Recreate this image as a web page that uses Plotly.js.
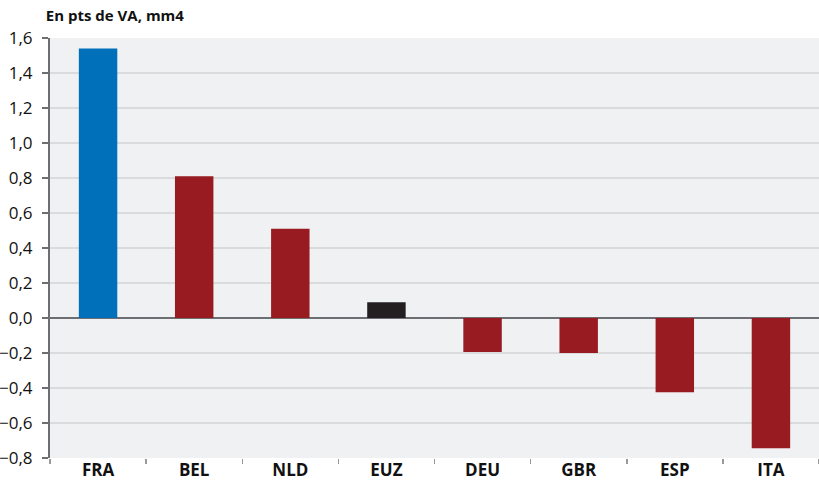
<!DOCTYPE html>
<html><head><meta charset="utf-8">
<script src="https://cdn.plot.ly/plotly-3.0.1.min.js"></script>
<style>body{margin:0;background:#fff}#c{width:819px;height:483px}</style>
</head><body><div id="c"></div>
<script>
const categories = ["FRA","BEL","NLD","EUZ","DEU","GBR","ESP","ITA"];
const values = [1.54, 0.81, 0.51, 0.09, -0.195, -0.20, -0.425, -0.745];
const barColors = ["#0070bb","#971b20","#971b20","#231f20","#971b20","#971b20","#971b20","#971b20"];
const yTicks = [-0.8,-0.6,-0.4,-0.2,0,0.2,0.4,0.6,0.8,1.0,1.2,1.4,1.6];

Plotly.newPlot("c", [{
  type: "bar", x: categories, y: values,
  marker: {color: barColors, line: {width: 0}},
  width: 0.4, hoverinfo: "none"
}], {
  width: 819, height: 483,
  margin: {l: 50, r: 0, t: 38, b: 25},
  paper_bgcolor: "#ffffff", plot_bgcolor: "#f0f1f3",
  separators: ",.",
  showlegend: false,
  font: {family: "Open Sans, sans-serif", color: "#111"},
  title: {text: "<b>En pts de VA, mm4</b>", x: 0.056, xanchor: "left", y: 0.967, yanchor: "middle",
          font: {size: 15, family: "Open Sans, sans-serif", color: "#111"}},
  xaxis: {
    type: "category", tickson: "boundaries", ticks: "outside", ticklen: 5, tickwidth: 1.5,
    tickcolor: "#999", showline: false, showgrid: false, zeroline: false,
    tickfont: {size: 17, family: "Open Sans, sans-serif", color: "#111", weight: "bold"},
    range: [-0.5, 7.5]
  },
  yaxis: {
    range: [-0.8, 1.6], tickvals: yTicks, tickformat: ".1f",
    ticks: "outside", ticklen: 6, tickwidth: 1.5, tickcolor: "#6d6e71",
    ticklabelstandoff: 6,
    showline: true, linecolor: "#6d6e71", linewidth: 2,
    gridcolor: "#dadbdd", gridwidth: 1.5,
    zeroline: true, zerolinecolor: "#6d6e71", zerolinewidth: 2,
    tickfont: {size: 17, family: "Open Sans, sans-serif", color: "#111"}
  }
}, {displayModeBar: false, staticPlot: true});
</script></body></html>
